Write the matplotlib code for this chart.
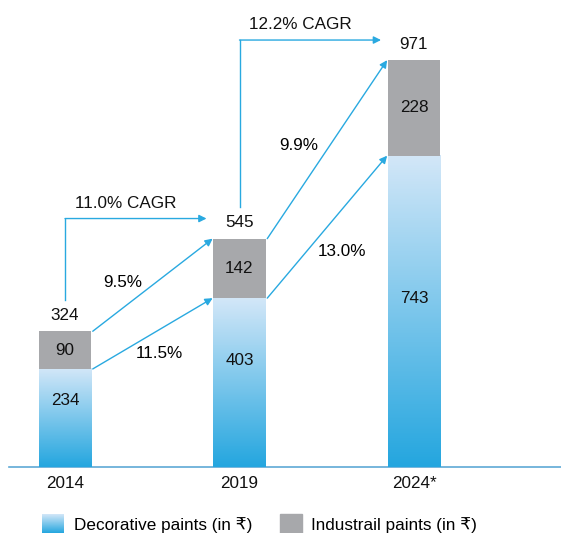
import numpy as np
import matplotlib
matplotlib.use("Agg")
import matplotlib.pyplot as plt
from matplotlib.colors import LinearSegmentedColormap

plt.rcParams['font.family'] = ['Liberation Sans', 'DejaVu Sans']

years = ['2014', '2019', '2024*']
decorative = [234, 403, 743]
industrial = [90, 142, 228]
totals = [324, 545, 971]
cagr_labels = ['11.0% CAGR', '12.2% CAGR']
ind_growth = ['9.5%', '9.9%']
dec_growth = ['11.5%', '13.0%']
legend_labels = ['Decorative paints (in ₹)', 'Industrail paints (in ₹)']

# where the decorative value label sits inside its bar (fraction of height)
dec_label_frac = [0.68, 0.63, 0.54]

BLUE = '#29a9e0'
GRAY = '#a7a8ab'
FS = 12.3
grad = LinearSegmentedColormap.from_list('grad', ['#24a6df', '#d3e7f8'])
gradient = np.linspace(0, 1, 256).reshape(-1, 1)

fig = plt.figure(figsize=(5.61, 5.33), dpi=100)
ax = fig.add_axes([0, 0, 1, 1])
ax.axis('off')

x = np.arange(len(years))
w = 0.298

for i in x:
    # decorative: vertical gradient, light at top
    ax.imshow(gradient, cmap=grad, origin='lower', aspect='auto',
              extent=[i - w / 2, i + w / 2, 0, decorative[i]], zorder=2)
ax.bar(x, industrial, w, bottom=decorative, color=GRAY, zorder=2)

for i in x:
    ax.text(i, decorative[i] * dec_label_frac[i], str(decorative[i]),
            ha='center', va='center', fontsize=FS, color='#111111', zorder=3)
    ax.text(i, decorative[i] + industrial[i] / 2, str(industrial[i]),
            ha='center', va='center', fontsize=FS, color='#111111', zorder=3)
    ax.annotate(str(totals[i]), (i, totals[i]), xytext=(0, 11.5),
                textcoords='offset points', ha='center', va='center',
                fontsize=FS, color='#111111')
    ax.annotate(years[i], (i, 0), xytext=(0, -12), textcoords='offset points',
                ha='center', va='center', fontsize=FS, color='#111111')

ax.axhline(0, xmin=9 / 561, color='#5fa9d6', lw=1.2, zorder=1)

arrow = dict(arrowstyle='-|>', color=BLUE, lw=1, shrinkA=0, shrinkB=0,
             mutation_scale=11)

for i in range(len(years) - 1):
    x0 = i + w / 2 + 0.01
    x1 = i + 1 - w / 2 - 0.005
    # segment growth arrows
    ax.annotate('', xy=(x1, totals[i + 1]), xytext=(x0, totals[i]), arrowprops=arrow)
    ax.annotate('', xy=(x1, decorative[i + 1]), xytext=(x0, decorative[i]),
                arrowprops=arrow)

    # CAGR bracket
    y_start = totals[i] + 75
    y_top = totals[i + 1] + 48
    ax.plot([i, i], [y_start, y_top], color=BLUE, lw=1)
    ax.annotate('', xy=(i + 1 - w / 2 - 0.04, y_top), xytext=(i, y_top),
                arrowprops=arrow)
    ax.text(i + 0.35, y_top + 36, cagr_labels[i], ha='center', va='center',
            fontsize=FS, color='#111111')

# growth labels
ax.text(0.33, (467 - 282) / 0.419, ind_growth[0], ha='center', va='center', fontsize=FS)
ax.text(0.54, (467 - 353) / 0.419, dec_growth[0], ha='center', va='center', fontsize=FS)
ax.text(1.34, (467 - 145) / 0.419, ind_growth[1], ha='center', va='center', fontsize=FS)
ax.text(1.59, (467 - 251) / 0.419, dec_growth[1], ha='center', va='center', fontsize=FS)

ax.set_xlim(-65 / 174.5, (561 - 65) / 174.5)
ax.set_ylim(-66 / 0.419, 467 / 0.419)

# legend
W, H = 561, 533
lax = fig.add_axes([42 / W, 0, 22 / W, 19 / H])
lax.imshow(gradient, cmap=grad, origin='lower', aspect='auto')
lax.axis('off')
fig.patches.append(plt.Rectangle((280 / W, 0), 22 / W, 19 / H, color=GRAY,
                                 transform=fig.transFigure, figure=fig))
fig.text(74 / W, 1 - 525 / H, legend_labels[0], ha='left', va='center', fontsize=FS)
fig.text(311 / W, 1 - 525 / H, legend_labels[1], ha='left', va='center', fontsize=FS)

fig.savefig('out.png', dpi=100)
